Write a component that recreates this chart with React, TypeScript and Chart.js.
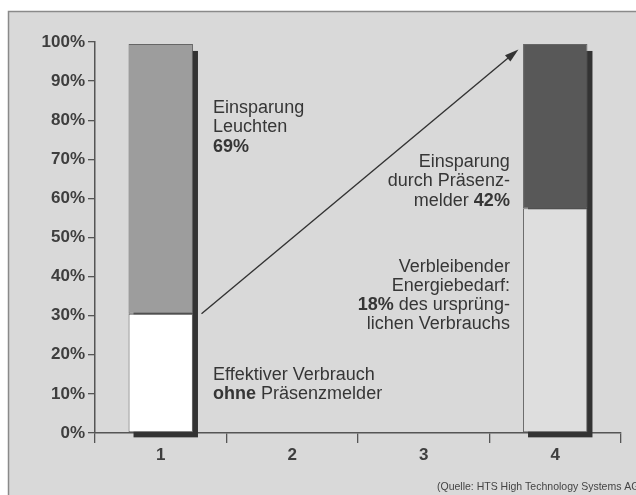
import React, { useEffect, useRef } from 'react';
import { Chart, registerables } from 'chart.js';

Chart.register(...registerables);

// ---- data ----
const categories = ['1', '2', '3', '4'];
const remainingValues: (number | null)[] = [30.5, null, null, 57.5];
const savingValues: (number | null)[] = [69, null, null, 42];
const remainingColors = ['#ffffff', '#ffffff', '#ffffff', '#dedede'];
const savingColors = ['#9d9d9d', '#9d9d9d', '#9d9d9d', '#585858'];
const yTickStep = 10;
const yMax = 100;

// arrow from (category index, value) to (category index, value)
const arrowFrom = { x: 0.31, y: 30.5 };
const arrowTo = { x: 2.72, y: 98.1 };

type Seg = [string, boolean];
type Note = { x: number; y: number; align: 'left' | 'right'; lines: Seg[][] };

const notes: Note[] = [
  { x: 0.398, y: 81.8, align: 'left', lines: [[['Einsparung', false]], [['Leuchten', false]], [['69%', true]]] },
  { x: 0.398, y: 13.6, align: 'left', lines: [[['Effektiver Verbrauch', false]], [['ohne', true], [' Präsenzmelder', false]]] },
  { x: 2.655, y: 68.0, align: 'right', lines: [[['Einsparung', false]], [['durch Präsenz-', false]], [['melder ', false], ['42%', true]]] },
  {
    x: 2.655, y: 41.3, align: 'right', lines: [
      [['Verbleibender', false]],
      [['Energiebedarf:', false]],
      [['18%', true], [' des ursprüng-', false]],
      [['lichen Verbrauchs', false]],
    ],
  },
];
const sourceNote = '(Quelle: HTS High Technology Systems AG';

const FONT = '"Liberation Sans", Arial, Helvetica, sans-serif';

const framePlugin = {
  id: 'frame',
  beforeDraw(chart: any) {
    const { ctx, width, height } = chart;
    ctx.save();
    ctx.fillStyle = '#ffffff';
    ctx.fillRect(0, 0, width, height);
    ctx.fillStyle = '#d9d9d9';
    ctx.fillRect(8, 11, width - 8, height - 11);
    ctx.strokeStyle = '#8a8a8a';
    ctx.lineWidth = 1.5;
    ctx.beginPath();
    ctx.moveTo(8.5, height);
    ctx.lineTo(8.5, 11.5);
    ctx.lineTo(width, 11.5);
    ctx.stroke();
    ctx.restore();
  },
};

const shadowPlugin = {
  id: 'barShadow',
  beforeDatasetsDraw(chart: any) {
    const { ctx } = chart;
    const m0 = chart.getDatasetMeta(0).data;
    const m1 = chart.getDatasetMeta(1).data;
    ctx.save();
    ctx.fillStyle = '#333333';
    for (let i = 0; i < categories.length; i++) {
      if (remainingValues[i] == null) continue;
      const b = m0[i].getProps(['x', 'base', 'width'], true);
      const t = m1[i].getProps(['y'], true);
      const left = b.x - b.width / 2;
      const right = b.x + b.width / 2;
      ctx.fillRect(left + 5, t.y + 7, right - left, b.base - t.y - 2);
    }
    ctx.restore();
  },
};

const annotationPlugin = {
  id: 'annotations',
  afterDatasetsDraw(chart: any) {
    const { ctx } = chart;
    const xs = chart.scales.x;
    const ys = chart.scales.y;
    ctx.save();
    // arrow
    const x1 = xs.getPixelForValue(arrowFrom.x);
    const y1 = ys.getPixelForValue(arrowFrom.y);
    const x2 = xs.getPixelForValue(arrowTo.x);
    const y2 = ys.getPixelForValue(arrowTo.y);
    const ang = Math.atan2(y2 - y1, x2 - x1);
    ctx.strokeStyle = '#333333';
    ctx.fillStyle = '#333333';
    ctx.lineWidth = 1.4;
    ctx.beginPath();
    ctx.moveTo(x1, y1);
    ctx.lineTo(x2 - 8 * Math.cos(ang), y2 - 8 * Math.sin(ang));
    ctx.stroke();
    const hl = 14, hw = 4.2;
    ctx.beginPath();
    ctx.moveTo(x2, y2);
    ctx.lineTo(x2 - hl * Math.cos(ang) + hw * Math.sin(ang), y2 - hl * Math.sin(ang) - hw * Math.cos(ang));
    ctx.lineTo(x2 - hl * Math.cos(ang) - hw * Math.sin(ang), y2 - hl * Math.sin(ang) + hw * Math.cos(ang));
    ctx.closePath();
    ctx.fill();

    // text notes
    ctx.fillStyle = '#363636';
    ctx.textBaseline = 'alphabetic';
    ctx.textAlign = 'left';
    const lh = 19.2;
    for (const n of notes) {
      const px = xs.getPixelForValue(n.x);
      const py = ys.getPixelForValue(n.y);
      n.lines.forEach((line, li) => {
        let total = 0;
        const widths = line.map(([t, b]) => {
          ctx.font = `${b ? 'bold ' : ''}18px ${FONT}`;
          const w = ctx.measureText(t).width;
          total += w;
          return w;
        });
        let cx = n.align === 'left' ? px : px - total;
        line.forEach(([t, b], si) => {
          ctx.font = `${b ? 'bold ' : ''}18px ${FONT}`;
          ctx.fillText(t, cx, py + li * lh);
          cx += widths[si];
        });
      });
    }
    // source
    ctx.font = `10.5px ${FONT}`;
    ctx.fillStyle = '#444444';
    ctx.fillText(sourceNote, 437, 490);
    ctx.restore();
  },
};

export default function App() {
  const ref = useRef<HTMLCanvasElement | null>(null);
  useEffect(() => {
    if (!ref.current) return;
    const chart = new Chart(ref.current, {
      type: 'bar',
      data: {
        labels: categories,
        datasets: [
          {
            label: 'Verbrauch',
            data: remainingValues as any,
            backgroundColor: remainingColors,
            borderColor: '#666666',
            borderWidth: 1,
            borderSkipped: false,
          },
          {
            label: 'Einsparung',
            data: savingValues as any,
            backgroundColor: savingColors,
            borderColor: '#666666',
            borderWidth: 1,
            borderSkipped: false,
          },
        ],
      },
      options: {
        responsive: false,
        animation: false,
        layout: { padding: { left: 0, right: 15, top: 42, bottom: 0 } },
        datasets: { bar: { categoryPercentage: 1, barPercentage: 0.49 } },
        plugins: { legend: { display: false }, tooltip: { enabled: false } },
        scales: {
          x: {
            stacked: true,
            afterFit: (s: any) => { s.height = 62; },
            grid: { offset: true, drawOnChartArea: false, drawTicks: true, tickLength: 10, color: '#555555', lineWidth: 1.3 },
            border: { display: true, color: '#555555', width: 1.5 },
            ticks: { font: { family: FONT, size: 17, weight: 'bold' }, color: '#3e3e3e', padding: 2 },
          },
          y: {
            stacked: true,
            min: 0,
            max: yMax,
            afterFit: (s: any) => { s.width = 95; },
            grid: { drawOnChartArea: false, drawTicks: true, tickLength: 7, color: '#555555', lineWidth: 1.3 },
            border: { display: true, color: '#555555', width: 1.5 },
            ticks: {
              stepSize: yTickStep,
              callback: (v: any) => `${v}%`,
              font: { family: FONT, size: 17, weight: 'bold' },
              color: '#3e3e3e',
              padding: 3,
            },
          },
        },
      },
      plugins: [framePlugin, shadowPlugin, annotationPlugin],
    });
    return () => chart.destroy();
  }, []);
  return (
    <div style={{ position: 'absolute', left: 0, top: 0, width: 636, height: 495 }}>
      <canvas ref={ref} width={636} height={495} style={{ display: 'block', width: 636, height: 495 }} />
    </div>
  );
}
